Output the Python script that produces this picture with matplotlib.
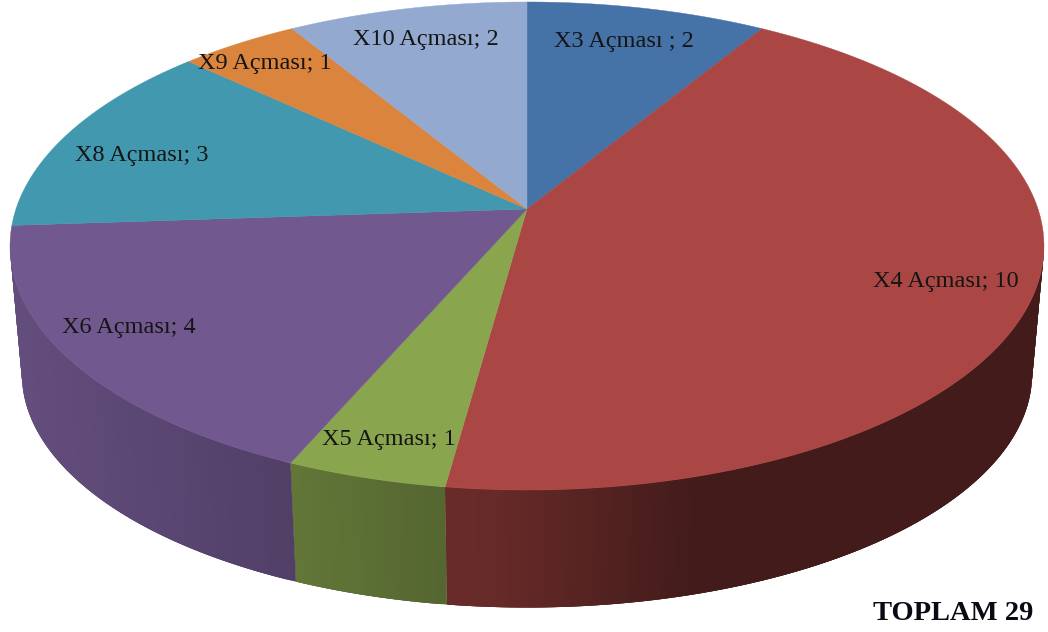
import numpy as np
import matplotlib
matplotlib.use("Agg")
import matplotlib.pyplot as plt

labels = ["X3 Açması ; 2", "X4 Açması; 10", "X5 Açması; 1", "X6 Açması; 4",
          "X8 Açması; 3", "X9 Açması; 1", "X10 Açması; 2"]
values = [2, 10, 1, 4, 3, 1, 2]
colors = ["#4572A7", "#AA4643", "#89A54E", "#71588F", "#4198AF", "#DB843D", "#93A9CF"]
total_text = "TOPLAM 29"

# where the label text sits, in pixels
label_x = [624, 946, 389, 129, 142, 265, 426]
label_y = [41, 282, 439, 328, 156, 64, 40]

# perspective of the disc
cx, cy = 527, 209
A, B, k = 511, 238.4, 0.1516


def top_rim(t):
    d = 1 + k * np.cos(t)
    return cx + A * np.sin(t) / d, cy - B * np.cos(t) / d


def bottom_rim(t):
    x, y = top_rim(t)
    return cx + 0.977 * (x - cx), 374 + 0.957 * (y - 246)


def shade(x):
    return np.interp(x, [30, 290, 445, 500, 700, 1030], [0.87, 0.72, 0.62, 0.6, 0.39, 0.39])


plt.rcParams["font.family"] = ["Liberation Serif", "DejaVu Serif"]
fig = plt.figure(figsize=(10.48, 6.32), dpi=100)
ax = fig.add_axes([0, 0, 1, 1])
ax.set_xlim(0, 1048)
ax.set_ylim(632, 0)
ax.axis("off")

edges = np.cumsum([0] + values) / sum(values) * 2 * np.pi

# side wall first, strips overlap the next one so no seams show
for i in range(len(values)):
    n = max(2, int(2 * np.degrees(edges[i + 1] - edges[i])))
    ts = np.linspace(edges[i], edges[i + 1], n + 1)
    base = np.array(matplotlib.colors.to_rgb(colors[i]))
    for j in range(n):
        # only the front of the wall can be seen
        if np.cos(ts[j]) > -k and np.cos(ts[j + 1]) > -k:
            continue
        seg = np.linspace(ts[j], ts[min(j + 3, n)], 4)
        x1, y1 = top_rim(seg)
        x2, y2 = bottom_rim(seg)
        c = tuple(base * shade(x1[0]))
        ax.fill(np.r_[x1, x2[::-1]], np.r_[y1, y2[::-1]], color=c, lw=0, zorder=1)

# top of the pie
for i in range(len(values)):
    ts = np.linspace(edges[i], edges[i + 1], 200)
    x, y = top_rim(ts)
    ax.fill(np.r_[cx, x], np.r_[cy, y], color=colors[i], lw=0.3, zorder=2)

for i in range(len(labels)):
    ax.text(label_x[i], label_y[i], labels[i], fontsize=17.5, color="#151515",
            ha="center", va="center", zorder=3)

ax.text(953, 614, total_text, fontsize=20.5, fontweight="bold", color="#0a0a14",
        ha="center", va="center", zorder=3)

fig.savefig("out.png", dpi=100)
